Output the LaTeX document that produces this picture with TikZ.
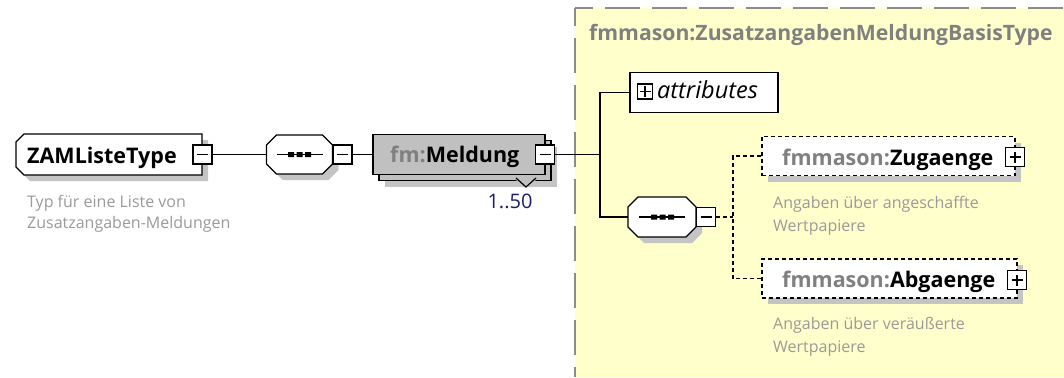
\documentclass[tikz,border=0pt]{standalone}
\usepackage{fontspec}
\setmainfont{Open Sans}
\usetikzlibrary{shadows}
\definecolor{panelfill}{HTML}{FFFFCC}
\definecolor{panelborder}{HTML}{8C8C8C}
\definecolor{shadowgrey}{HTML}{C4C4C4}
\definecolor{elemgrey}{HTML}{C0C0C0}
\definecolor{prefixgrey}{HTML}{808080}
\definecolor{descgrey}{HTML}{9A9A9A}
\definecolor{occur}{HTML}{1E1E64}
% octagon: centre x, centre y, half width, half height, chamfer
\newcommand\myoct[5]{(#1-#3+#5,#2-#4) -- (#1+#3-#5,#2-#4) -- (#1+#3,#2-#4+#5) -- (#1+#3,#2+#4-#5) -- (#1+#3-#5,#2+#4) -- (#1-#3+#5,#2+#4) -- (#1-#3,#2+#4-#5) -- (#1-#3,#2-#4+#5) -- cycle}
\begin{document}
\begin{tikzpicture}[x=1pt,y=-1pt,
  lw/.style={line width=1.2pt},
  conn/.style={line width=1.2pt},
  dconn/.style={line width=1.2pt,dash pattern=on 4pt off 3pt},
  shad/.style={drop shadow={shadow xshift=6pt,shadow yshift=-6pt,fill=shadowgrey,opacity=1}},
  minusbox/.style={draw,fill=white,line width=1.2pt,minimum size=19pt,inner sep=0pt,
    path picture={\draw[black,line width=1.2pt] ([xshift=-5.5pt]path picture bounding box.center) -- ([xshift=5.5pt]path picture bounding box.center);}},
  plusbox/.style={minusbox,
    path picture={\draw[black,line width=1.2pt] ([xshift=-5.5pt]path picture bounding box.center) -- ([xshift=5.5pt]path picture bounding box.center)
      ([yshift=-5.5pt]path picture bounding box.center) -- ([yshift=5.5pt]path picture bounding box.center);}},
  anchorbox/.style={rectangle,draw=none,inner sep=0pt,minimum width=68pt,minimum height=39pt},
  octline/.style={draw=black,fill=white,line width=1.2pt},
  elembox/.style={rectangle,draw,line width=1.2pt,inner sep=0pt},
  nametxt/.style={font=\bfseries\fontsize{21.5}{25}\selectfont,inner sep=0pt,anchor=base west},
  desctxt/.style={font=\fontsize{16}{19}\selectfont,text=descgrey,inner sep=0pt,anchor=base west}
]
\useasboundingbox (0,0) rectangle (1064,377);
\fill[white] (0,0) rectangle (1064,377);

% yellow panel
\fill[panelfill] (575,8) rectangle (1064,377);
\draw[panelborder,line width=1.6pt,dash pattern=on 35pt off 12pt,dash phase=17pt] (575,8) -- (575,377);
\draw[panelborder,line width=1.6pt,dash pattern=on 35pt off 12pt,dash phase=17pt] (575,8) -- (1064,8);
\node[font=\bfseries\fontsize{21.2}{25}\selectfont,text=prefixgrey,inner sep=0pt,anchor=base west] (ttl) at (589,41) {fmmason:ZusatzangabenMeldungBasisType};

% ZAMListeType
\fill[shadowgrey] (30,140) -- (208,140) -- (208,181) -- (30,181) -- (22,173) -- (22,148) -- cycle;
\draw[octline] (24,134) -- (202,134) -- (202,175) -- (24,175) -- (16,167) -- (16,142) -- cycle;
\node[anchorbox,minimum width=186pt,minimum height=41pt] (zam) at (109,154.5) {};
\node[nametxt] (zamt) at (27,163) {ZAMListeType};
\node[minusbox] (zamm) at (202.5,154.5) {};
\node[desctxt] (zamd1) at (27,207) {Typ für eine Liste von};
\node[desctxt] (zamd2) at (27,228) {Zusatzangaben-Meldungen};

% sequence 1
\fill[shadowgrey] \myoct{305.5}{160.5}{33}{19.5}{10};
\draw[octline] \myoct{299.5}{154.5}{33}{19.5}{10};
\node[anchorbox,minimum width=66pt] (seqa) at (299.5,154.5) {};
\draw[lw] ([xshift=-23pt]seqa.center) -- ([xshift=23pt]seqa.center);
\fill[black] (288,152) rectangle (294,157) (296.5,152) rectangle (302.5,157) (305,152) rectangle (311,157);
\node[minusbox] (seqam) at (342.5,154.5) {};

% Meldung (stacked)
\node[elembox,fill=elemgrey,minimum width=172pt,minimum height=40pt,shad] (meldb) at (465,160.5) {};
\node[elembox,fill=elemgrey,minimum width=172pt,minimum height=40pt] (meld) at (459,154.5) {};
\fill[elemgrey] (516,180) -- (536,180) -- (526,187) -- cycle;
\draw[lw] (516,178) -- (526,187) -- (536,178);
\node[nametxt] (meldt) at (390,162) {\textcolor{prefixgrey}{fm:}Meldung};
\node[minusbox] (meldm) at (545,154.5) {};
\node[font=\fontsize{20}{24}\selectfont,text=occur,inner sep=0pt,anchor=base] (occ) at (510,208) {1..50};

% trunk
\coordinate (tr) at (600,154.5);
\draw[conn] (zamm.east) -- (seqa.west);
\draw[conn] (seqam.east) -- (meld.west);
\draw[conn] (meldm.east) -- (tr);

% attributes
\node[elembox,fill=white,minimum width=148pt,minimum height=40pt] (attr) at (704,92.5) {};
\node[plusbox,minimum size=15pt] (attrp) at (645,91.5) {};
\node[font=\itshape\fontsize{23.5}{27}\selectfont,inner sep=0pt,anchor=base west] (attrt) at (657,99) {attributes};
\draw[conn] (attr.west) -| (tr);

% sequence 2
\fill[shadowgrey] \myoct{668}{223}{34}{20}{10};
\draw[octline] \myoct{662}{217}{34}{20}{10};
\node[anchorbox] (seqb) at (662,217) {};
\draw[lw] ([xshift=-23pt]seqb.center) -- ([xshift=23pt]seqb.center);
\fill[black] (651,214.5) rectangle (657,219.5) (659.5,214.5) rectangle (665.5,219.5) (668,214.5) rectangle (674,219.5);
\node[minusbox] (seqbm) at (706,217) {};
\draw[conn] (seqb.west) -| (tr);

% children
\coordinate (dj) at (733,217);
\node[elembox,dash pattern=on 4pt off 3pt,fill=white,minimum width=253pt,minimum height=39pt,shad] (zug) at (888.5,156) {};
\node[nametxt] (zugt) at (782,165) {\textcolor{prefixgrey}{fmmason:}Zugaenge};
\node[plusbox] (zugp) at (1015,157) {};
\node[desctxt] (zugd1) at (773,208) {Angaben über angeschaffte};
\node[desctxt] (zugd2) at (773,231) {Wertpapiere};

\node[elembox,dash pattern=on 4pt off 3pt,fill=white,minimum width=255pt,minimum height=39pt,shad] (abg) at (889.5,278.5) {};
\node[nametxt] (abgt) at (782,287) {\textcolor{prefixgrey}{fmmason:}Abgaenge};
\node[plusbox] (abgp) at (1017,280) {};
\node[desctxt] (abgd1) at (773,329) {Angaben über veräußerte};
\node[desctxt] (abgd2) at (773,352) {Wertpapiere};

\draw[dconn] (seqbm.east) -- (dj);
\draw[dconn] (zug.west) -| (dj);
\draw[dconn] (abg.west) -| (dj);
\end{tikzpicture}
\end{document}
